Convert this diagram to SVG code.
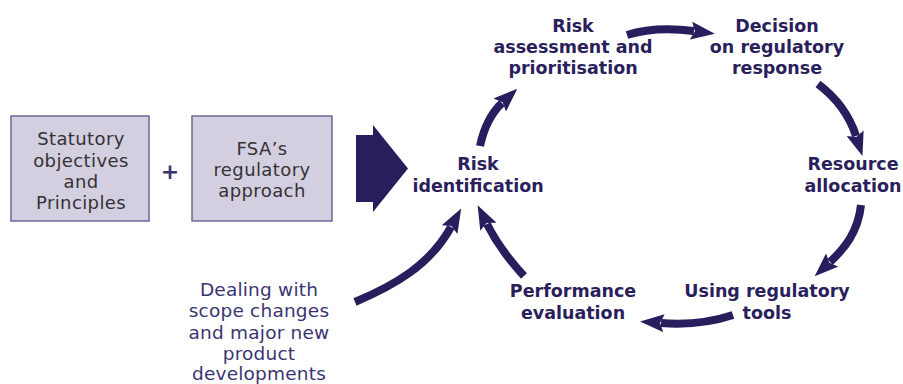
<svg xmlns="http://www.w3.org/2000/svg" width="903" height="384" viewBox="0 0 903 384">
<style>
.box{fill:#d4cee1;stroke:#6e6898;stroke-width:1.5}
.bt{font-family:"DejaVu Sans",sans-serif;font-size:18px;fill:#333;text-anchor:middle;letter-spacing:0.4px}
.ct{font-family:"DejaVu Sans",sans-serif;font-size:17.5px;font-weight:bold;fill:#2a1f5c;text-anchor:middle}
.dt{font-family:"DejaVu Sans",sans-serif;font-size:18.5px;fill:#3a3572;text-anchor:middle;letter-spacing:0.2px}
.arr{fill:none;stroke:#2a1d5e;stroke-width:8;marker-end:url(#head)}
</style>
<defs>
<marker id="head" viewBox="0 0 24 18" refX="3" refY="9" markerWidth="24" markerHeight="18" markerUnits="userSpaceOnUse" orient="auto">
<path d="M0,0 L24,9 L0,18 L4,9 Z" fill="#2a1d5e"/>
</marker>
</defs>
<rect width="903" height="384" fill="#fff"/>
<g id="statutory">
<rect class="box" x="11" y="116" width="138" height="105"/>
<text class="bt" x="81" y="145">Statutory</text>
<text class="bt" x="81" y="166.5">objectives</text>
<text class="bt" x="81" y="187.5">and</text>
<text class="bt" x="81" y="208.5">Principles</text>
</g>
<g id="plus">
<text x="170" y="179" font-family="DejaVu Sans,sans-serif" font-size="22" font-weight="bold" fill="#3a3572" text-anchor="middle">+</text>
</g>
<g id="fsa">
<rect class="box" x="192" y="116" width="140" height="105"/>
<text class="bt" x="262" y="154.5">FSA’s</text>
<text class="bt" x="262" y="175.5">regulatory</text>
<text class="bt" x="262" y="196.5">approach</text>
</g>
<g id="bigarrow">
<polygon points="356,135 373,135 373,125 408,168.5 373,212 373,202 356,202" fill="#2a1d5e"/>
</g>
<g id="risk-id">
<text class="ct" x="478" y="170">Risk</text>
<text class="ct" x="478" y="192">identification</text>
</g>
<g id="risk-assess">
<text class="ct" x="573" y="31.5">Risk</text>
<text class="ct" x="573" y="53">assessment and</text>
<text class="ct" x="573" y="73.5">prioritisation</text>
</g>
<g id="decision">
<text class="ct" x="777" y="31.5">Decision</text>
<text class="ct" x="777" y="53">on regulatory</text>
<text class="ct" x="777" y="73.5">response</text>
</g>
<g id="resource">
<text class="ct" x="853" y="170">Resource</text>
<text class="ct" x="853" y="192">allocation</text>
</g>
<g id="tools">
<text class="ct" x="767" y="297">Using regulatory</text>
<text class="ct" x="767" y="319">tools</text>
</g>
<g id="performance">
<text class="ct" x="573" y="297">Performance</text>
<text class="ct" x="573" y="319">evaluation</text>
</g>
<g id="dealing">
<text class="dt" x="259" y="295.5">Dealing with</text>
<text class="dt" x="259" y="317">scope changes</text>
<text class="dt" x="259" y="338.5">and major new</text>
<text class="dt" x="259" y="360">product</text>
<text class="dt" x="259" y="380">developments</text>
</g>
<g id="connectors">
<path class="arr" d="M480,146 Q486,118 502,103"/>
<path class="arr" d="M627,35 Q655,26 694,31"/>
<path class="arr" d="M818,84 Q846,105 856,136"/>
<path class="arr" d="M861,205 C858,232 845,248 830,262"/>
<path class="arr" d="M733,315 Q700,326 661,323"/>
<path class="arr" d="M524,276 Q500,250 487,224"/>
<path class="arr" d="M355,302 C395,285 430,265 451,227"/>
</g>
</svg>
